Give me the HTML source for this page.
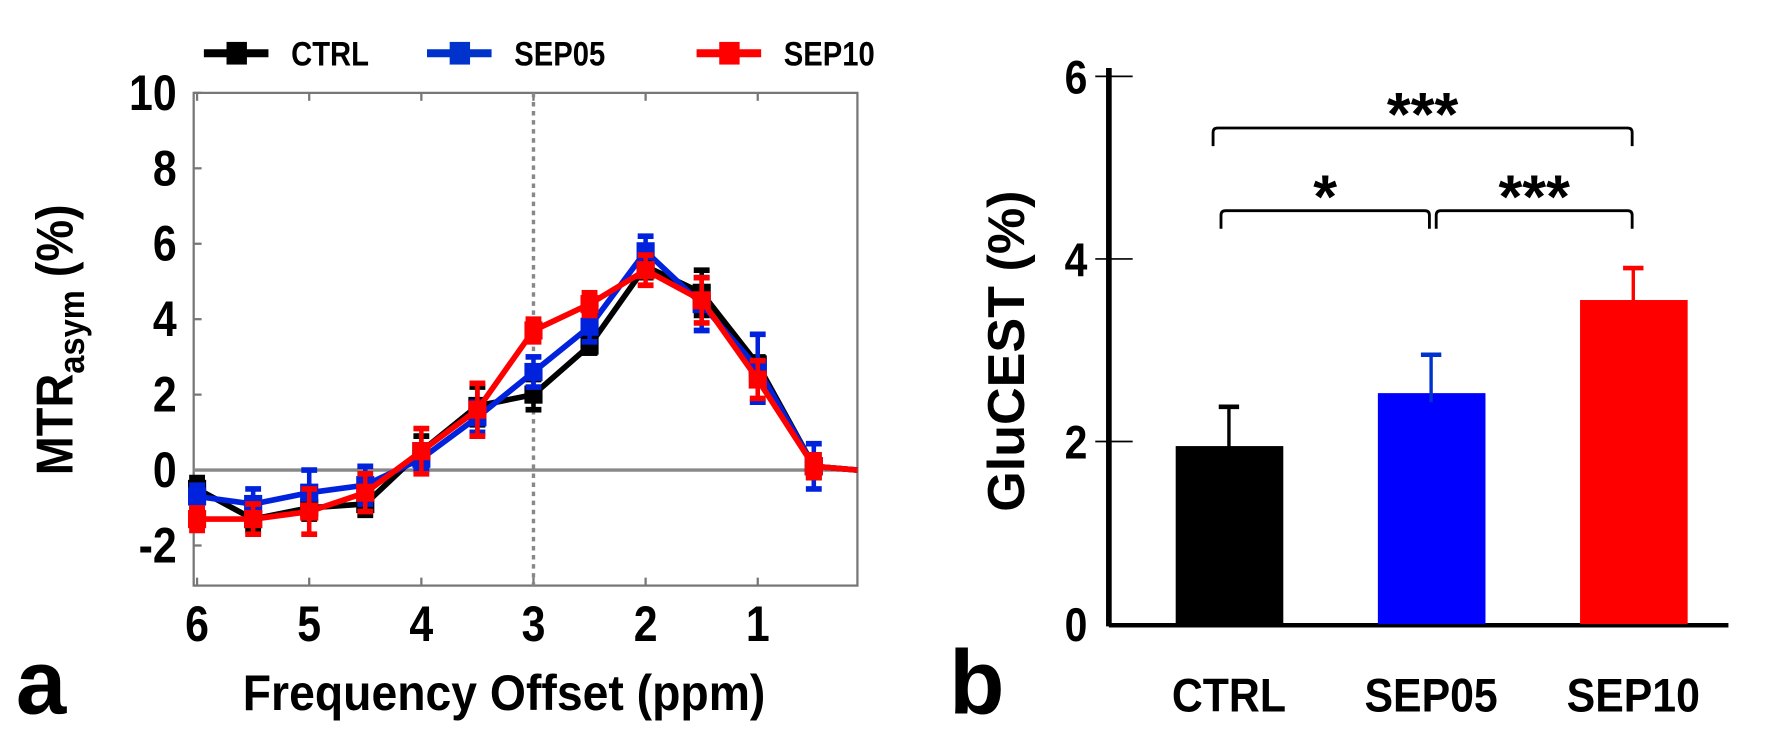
<!DOCTYPE html>
<html><head><meta charset="utf-8"><style>
body{margin:0;background:#fff;}
svg{display:block;}
svg text{font-family:"Liberation Sans",Arial,sans-serif;font-weight:bold;}
</style></head><body>
<svg width="1776" height="753" viewBox="0 0 1568 664.8" preserveAspectRatio="none" xmlns="http://www.w3.org/2000/svg">
<g id="left"></g>
<g id="right"></g>
</svg>
<script>
const ppm=[6,5.5,5,4.5,4,3.5,3,2.5,2,1.5,1,0.5];
const ctrl=[-0.5,-1.3,-1.0,-0.9,0.5,1.7,2.0,3.3,5.4,4.7,2.8,0.1];
const ctrlErr=[0.3,0.3,0.3,0.3,0.4,0.5,0.4,0.2,0.3,0.6,0.2,0.3];
const sep05=[-0.7,-0.9,-0.6,-0.4,0.3,1.4,2.6,3.8,5.8,4.4,2.7,0.1];
const sep05Err=[0.3,0.4,0.6,0.5,0.3,0.4,0.4,0.4,0.4,0.7,0.9,0.6];
const sep10=[-1.3,-1.3,-1.1,-0.6,0.5,1.6,3.7,4.4,5.3,4.5,2.4,0.1];
const sep10Err=[0.3,0.4,0.6,0.5,0.6,0.7,0.3,0.3,0.4,0.6,0.5,0.3];
const yTicksL=[10,8,6,4,2,0,-2];
const xTicksL=[6,5,4,3,2,1];
const barCats=["CTRL","SEP05","SEP10"];
const barVals=[1.95,2.53,3.55];
const barErr=[0.43,0.42,0.35];
const yTicksR=[0,2,4,6];
const NS="http://www.w3.org/2000/svg";
function mk(p,tag,a,txt){const e=document.createElementNS(NS,tag);for(const k in a)e.setAttribute(k,a[k]);if(txt!==undefined)e.textContent=txt;p.appendChild(e);return e;}
// condensed text
function tx(p,x,y,size,anchor,str,sx){return mk(p,'text',{x:0,y:0,'font-size':size,'text-anchor':anchor,transform:`translate(${x},${y}) scale(${sx||0.86},1)`},str);}
const L=document.getElementById('left');
const xL=v=>174+(6-v)*99;
const yL=v=>415-v*33.3;
let e=mk(L,'rect',{x:171,y:82,width:586,height:435,fill:'none',stroke:'#777','stroke-width':2});

yTicksL.forEach(t=>{let g=tx(L,156,yL(t)+15,44,'end',String(t));

mk(L,'line',{x1:171,x2:178,y1:yL(t),y2:yL(t),stroke:'#777','stroke-width':2});});
xTicksL.forEach(t=>{let g=tx(L,xL(t),566,44,'middle',String(t));

mk(L,'line',{x1:xL(t),x2:xL(t),y1:82,y2:89,stroke:'#777','stroke-width':2});
mk(L,'line',{x1:xL(t),x2:xL(t),y1:517,y2:510,stroke:'#777','stroke-width':2});});
e=mk(L,'line',{x1:171,x2:757,y1:yL(0),y2:yL(0),stroke:'#888','stroke-width':3});

e=mk(L,'line',{x1:xL(3),x2:xL(3),y1:82,y2:517,stroke:'#888','stroke-width':3,'stroke-dasharray':'4,4'});

function series(vals,errs,col,name){
 const g=mk(L,'g',{});
 
 let pts=vals.map((v,i)=>xL(ppm[i])+','+yL(v)).join(' ')+' 757,'+yL(0);
 mk(g,'polyline',{points:pts,fill:'none',stroke:col,'stroke-width':5});
 vals.forEach((v,i)=>{const x=xL(ppm[i]);
  mk(g,'line',{x1:x,x2:x,y1:yL(v-errs[i]),y2:yL(v+errs[i]),stroke:col,'stroke-width':4});
  [v-errs[i],v+errs[i]].forEach(w=>mk(g,'line',{x1:x-7,x2:x+7,y1:yL(w),y2:yL(w),stroke:col,'stroke-width':5}));
  const m=mk(g,'rect',{x:x-8,y:yL(v)-8,width:16,height:16,fill:col});
  });
}
series(ctrl,ctrlErr,'#000','ctrl');series(sep05,sep05Err,'#0022dd','sep05');series(sep10,sep10Err,'#ff0000','sep10');
[[180,'CTRL','#000'],[377,'SEP05','#0033cc'],[615,'SEP10','#ff0000']].forEach(([x,t,c])=>{
 const g=mk(L,'g',{});
 mk(g,'line',{x1:x,x2:x+57,y1:47,y2:47,stroke:c,'stroke-width':7});
 mk(g,'rect',{x:x+20,y:37,width:18,height:20,fill:c});
 tx(g,x+77,58,30,'start',t);});
e=mk(L,'text',{x:0,y:0,'font-size':46,'text-anchor':'middle',transform:'translate(64,300) rotate(-90) scale(0.9,1)'});

e.innerHTML='MTR<tspan font-size="32" dy="10">asym</tspan><tspan dy="-10"> (%)</tspan>';
e=tx(L,445,627,44,'middle','Frequency Offset (ppm)',0.93);

e=tx(L,14,630,80,'start','a',1);

const R=document.getElementById('right');
const yR=v=>551-v*80.6;
const xR=i=>1085+i*178.5;
e=mk(R,'line',{x1:979,x2:979,y1:60,y2:553,stroke:'#000','stroke-width':5});

e=mk(R,'line',{x1:979,x2:1526,y1:552,y2:552,stroke:'#000','stroke-width':4});

yTicksR.forEach(t=>{let g=tx(R,960,yR(t)+15,42,'end',String(t));

if(t>0)mk(R,'line',{x1:967,x2:1000,y1:yR(t),y2:yR(t),stroke:'#000','stroke-width':1.5});});
const cols=['#000','#0000ff','#ff0000'],ecols=['#000','#0033cc','#ff0000'];
barVals.forEach((v,i)=>{const x=xR(i);
 let b=mk(R,'rect',{x:x-47,y:yR(v),width:95,height:yR(0)-yR(v),fill:cols[i]});
 
 mk(R,'line',{x1:x,x2:x,y1:yR(v)+8,y2:yR(v+barErr[i]),stroke:ecols[i],'stroke-width':3});
 mk(R,'line',{x1:x-9,x2:x+9,y1:yR(v+barErr[i]),y2:yR(v+barErr[i]),stroke:ecols[i],'stroke-width':4});
 let t=tx(R,x,628,42,'middle',barCats[i],0.9);
 });
function bracket(x1,x2,y,label){const g=mk(R,'g',{});
 
 mk(g,'path',{d:`M${x1},${y+16} L${x1},${y+4} Q${x1},${y} ${x1+4},${y} L${x2-4},${y} Q${x2},${y} ${x2},${y+4} L${x2},${y+16}`,fill:'none',stroke:'#000','stroke-width':2.5});
 tx(g,(x1+x2)/2,y+6,54,'middle',label,1);}
bracket(1071,1441,113,'***');bracket(1078,1262,186,'*');bracket(1268,1441,186,'***');
e=mk(R,'text',{x:0,y:0,'font-size':46,'text-anchor':'middle',transform:'translate(904,310) rotate(-90)'},'GluCEST (%)');

e=tx(R,838,630,80,'start','b',1);

</script>
</body></html>
